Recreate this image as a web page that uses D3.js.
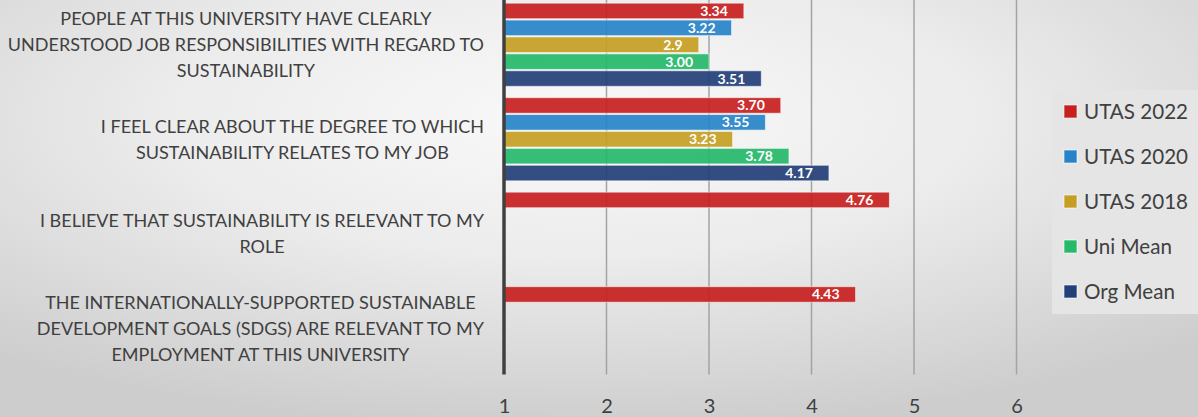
<!DOCTYPE html>
<html>
<head>
<meta charset="utf-8">
<script src="https://cdn.jsdelivr.net/npm/d3@7"></script>
<style>
html,body{margin:0;padding:0;overflow:hidden;}
svg{display:block;}
</style>
</head>
<body>
<svg id="chart" width="1198" height="417"></svg>
<script>
// ---- data ----
const categories = [
  ["PEOPLE AT THIS UNIVERSITY HAVE CLEARLY","UNDERSTOOD JOB RESPONSIBILITIES WITH REGARD TO","SUSTAINABILITY"],
  ["I FEEL CLEAR ABOUT THE DEGREE TO WHICH","SUSTAINABILITY RELATES TO MY JOB"],
  ["I BELIEVE THAT SUSTAINABILITY IS RELEVANT TO MY","ROLE"],
  ["THE INTERNATIONALLY-SUPPORTED SUSTAINABLE","DEVELOPMENT GOALS (SDGS) ARE RELEVANT TO MY","EMPLOYMENT AT THIS UNIVERSITY"]
];
const seriesNames = ["UTAS 2022","UTAS 2020","UTAS 2018","Uni Mean","Org Mean"];
const seriesColors = ["#c8201f","#2783c8","#c69e24","#26b96a","#233f78"];
const utas2022 = [3.34, 3.70, 4.76, 4.43];
const utas2020 = [3.22, 3.55, null, null];
const utas2018 = [2.9, 3.23, null, null];
const uniMean  = [3.00, 3.78, null, null];
const orgMean  = [3.51, 4.17, null, null];
const labels2022 = ["3.34","3.70","4.76","4.43"];
const labels2020 = ["3.22","3.55",null,null];
const labels2018 = ["2.9","3.23",null,null];
const labelsUni  = ["3.00","3.78",null,null];
const labelsOrg  = ["3.51","4.17",null,null];
const xTicks = [1,2,3,4,5,6];

const seriesValues = [utas2022, utas2020, utas2018, uniMean, orgMean];
const seriesLabels = [labels2022, labels2020, labels2018, labelsUni, labelsOrg];

// ---- layout ----
const svg = d3.select("#chart");
const W = 1198, H = 417;
const plotLeft = 504, plotRight = 1016.5, plotTop = -2.5, plotBottom = 375.5;

const defs = svg.append("defs");
const grad = defs.append("radialGradient").attr("id","bg")
  .attr("cx","48%").attr("cy","28%").attr("r","75%")
  .attr("gradientUnits","objectBoundingBox");
grad.append("stop").attr("offset","0%").attr("stop-color","#f9f9f9");
grad.append("stop").attr("offset","45%").attr("stop-color","#ececec");
grad.append("stop").attr("offset","100%").attr("stop-color","#cdcdcd");
svg.append("rect").attr("width",W).attr("height",H).attr("fill","url(#bg)");

const x = d3.scaleLinear().domain([1,6]).range([plotLeft, plotRight]);
const catIdx = categories.map((d,i)=>i);
const y0 = d3.scaleBand().domain(catIdx).range([plotTop, plotBottom]).paddingInner(0.12).paddingOuter(0.06);
const y1 = d3.scaleBand().domain(d3.range(seriesNames.length)).range([0, y0.bandwidth()]).paddingInner(0.08);

// gridlines
svg.append("g")
  .selectAll("line").data(xTicks.filter(t=>t>1)).join("line")
  .attr("x1",d=>x(d)).attr("x2",d=>x(d))
  .attr("y1",0).attr("y2",plotBottom - 1)
  .attr("stroke","#a3a3a3").attr("stroke-width",1.5);

// bars
const barData = [];
seriesValues.forEach((vals,s)=>{
  vals.forEach((v,c)=>{ if(v!=null) barData.push({s,c,v,label:seriesLabels[s][c]}); });
});
const gBars = svg.append("g");
gBars.selectAll("rect").data(barData).join("rect")
  .attr("x", x(1))
  .attr("y", d=>y0(d.c)+y1(d.s))
  .attr("width", d=>x(d.v)-x(1))
  .attr("height", y1.bandwidth())
  .attr("fill", d=>seriesColors[d.s])
  .attr("fill-opacity",0.92)
  .attr("stroke","rgba(255,255,255,0.55)")
  .attr("stroke-width",1);

gBars.selectAll("text").data(barData).join("text")
  .attr("x", d=>x(d.v)-16)
  .attr("y", d=>y0(d.c)+y1(d.s)+y1.bandwidth()/2)
  .attr("dy","0.36em")
  .attr("text-anchor","end")
  .attr("font-family","Lato, 'Open Sans', sans-serif")
  .attr("font-weight","bold")
  .attr("font-size",14)
  .attr("fill","#ffffff")
  .text(d=>d.label);

// axis line at x=1
svg.append("line")
  .attr("x1",x(1)).attr("x2",x(1)).attr("y1",0).attr("y2",plotBottom-1)
  .attr("stroke","#404040").attr("stroke-width",3.5);

// x axis tick labels
const xAxis = d3.axisBottom(x).tickValues(xTicks).tickSize(0).tickPadding(0).tickFormat(d3.format("d"));
const gx = svg.append("g").attr("transform",`translate(0,${plotBottom})`).call(xAxis);
gx.select(".domain").remove();
gx.selectAll("text")
  .attr("y", 30).attr("dy","0.36em")
  .attr("font-family","Lato, 'Open Sans', sans-serif")
  .attr("font-size",20)
  .attr("fill","#404040");

// category labels
const labelRight = 484;
const lineH = 26;
const gCat = svg.append("g")
  .attr("font-family","Lato, 'Open Sans', sans-serif")
  .attr("font-size",18)
  .attr("fill","#404040");
categories.forEach((lines,c)=>{
  const t = gCat.append("text").attr("text-anchor","middle");
  const cy = y0(c) + y0.bandwidth()/2;
  const tspans = lines.map((ln,i)=> t.append("tspan")
      .attr("y", cy + (i-(lines.length-1)/2)*lineH)
      .attr("dy","0.36em")
      .text(ln));
  const maxW = d3.max(tspans, ts=>ts.node().getComputedTextLength());
  tspans.forEach(ts=>ts.attr("x", labelRight - maxW/2));
});

// legend
const lg = svg.append("g");
lg.append("rect").attr("x",1052).attr("y",90).attr("width",150).attr("height",224)
  .attr("fill","#e5e5e5");
const legendY = d3.scalePoint().domain(d3.range(seriesNames.length)).range([111.5, 291.5]);
const items = lg.selectAll("g.item").data(seriesNames).join("g").attr("class","item")
  .attr("transform",(d,i)=>`translate(0,${legendY(i)})`);
items.append("rect").attr("x",1064).attr("y",-6.5).attr("width",13).attr("height",13)
  .attr("fill",(d,i)=>seriesColors[i])
  .attr("stroke","rgba(255,255,255,0.6)").attr("stroke-width",1);
items.append("text").attr("x",1084).attr("dy","0.36em")
  .attr("font-family","Lato, 'Open Sans', sans-serif")
  .attr("font-size",20.6)
  .attr("fill","#404040")
  .text(d=>d);
</script>
</body>
</html>
